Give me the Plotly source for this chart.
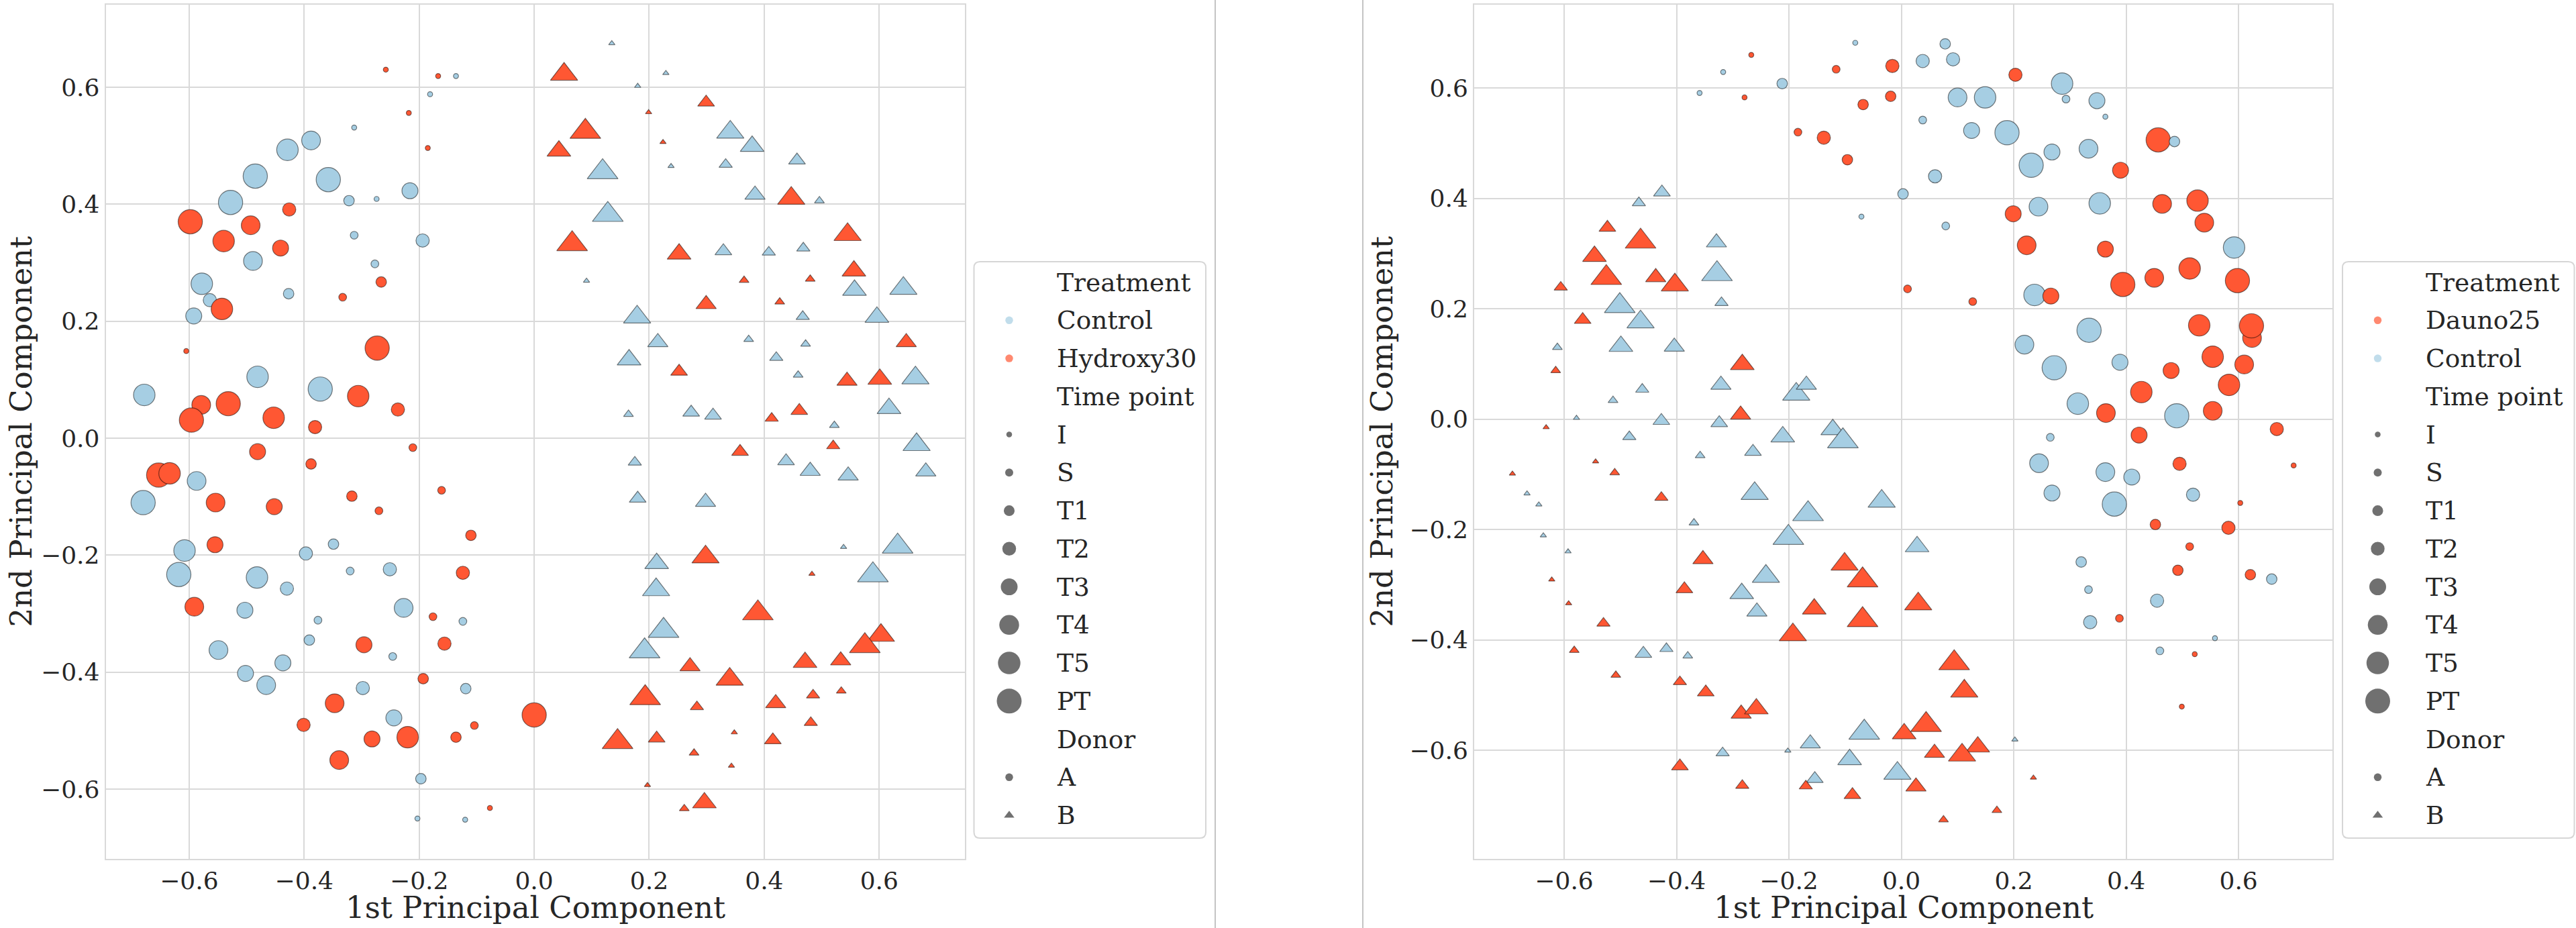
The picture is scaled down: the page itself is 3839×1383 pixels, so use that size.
import plotly.graph_objects as go

W, H = 3839, 1383

# ---------------- data ----------------
time_levels = ["I", "S", "T1", "T2", "T3", "T4", "T5", "PT"]

# Left panel (Control vs Hydroxy30) - donor A (circles)
left_A_pc1 = [
    -0.258, -0.167, -0.136, -0.181, -0.218, -0.313, -0.185, -0.388,
    -0.429, -0.485, -0.358, -0.216, -0.322, -0.274, -0.528, -0.426,
    -0.598, -0.493, -0.540, -0.441, -0.313, -0.194, -0.489, -0.277,
    -0.266, -0.333, -0.427, -0.578, -0.564, -0.543, -0.592, -0.605,
    -0.273, -0.481, -0.678, -0.372, -0.306, -0.237, -0.579, -0.532,
    -0.596, -0.453, -0.381, -0.481, -0.388, -0.211, -0.653, -0.634,
    -0.587, -0.680, -0.554, -0.452, -0.317, -0.270, -0.161, -0.110,
    -0.555, -0.608, -0.397, -0.349, -0.618, -0.482, -0.430, -0.320,
    -0.251, -0.124, -0.591, -0.503, -0.227, -0.176, -0.124, -0.376,
    -0.391, -0.296, -0.156, -0.246, -0.549, -0.437, -0.502, -0.466,
    -0.193, -0.298, -0.119, -0.347, 0.000, -0.244, -0.401, -0.104,
    -0.282, -0.220, -0.136, -0.339, -0.197, -0.077, -0.203, -0.120,
]
left_A_pc2 = [
    0.630, 0.619, 0.619, 0.588, 0.556, 0.531, 0.496, 0.509,
    0.493, 0.448, 0.442, 0.423, 0.406, 0.409, 0.403, 0.391,
    0.370, 0.364, 0.337, 0.325, 0.347, 0.338, 0.303, 0.298,
    0.267, 0.241, 0.247, 0.264, 0.236, 0.221, 0.209, 0.149,
    0.154, 0.105, 0.074, 0.084, 0.072, 0.049, 0.057, 0.059,
    0.031, 0.035, 0.019, -0.023, -0.044, -0.016, -0.063, -0.060,
    -0.073, -0.110, -0.110, -0.117, -0.099, -0.124, -0.089, -0.166,
    -0.182, -0.192, -0.197, -0.181, -0.233, -0.238, -0.257, -0.227,
    -0.224, -0.230, -0.288, -0.294, -0.290, -0.305, -0.313, -0.311,
    -0.345, -0.353, -0.351, -0.373, -0.362, -0.384, -0.402, -0.422,
    -0.411, -0.427, -0.428, -0.453, -0.473, -0.478, -0.490, -0.491,
    -0.514, -0.511, -0.511, -0.550, -0.582, -0.632, -0.650, -0.652,
]
left_A_treatment = """
H H C C H C H C
C C C C C C C H
H H H H C C C C
H H C C C H C H
H C C C H H H H
H H H H H H H H
C C H H H H H H
H C C C C C C C
C H H C C H C C
C H H C C C C C
H C C H H C H H
H H H H C H C C""".split()
left_A_time = """
I I I I I I I T4
T5 PT PT T3 T1 I PT T2
PT T4 T5 T3 S T2 T4 S
T1 S T1 T5 T2 T5 T3 I
PT T5 T5 PT T5 T2 T4 PT
PT T5 T2 T3 T1 S PT T5
T4 PT T4 T3 T1 S S T1
T3 T5 T2 T1 PT T5 T2 S
T2 T2 T4 T3 T4 S S S
T1 T3 T2 S T4 T3 T3 T4
T1 T2 T1 T4 PT T3 T2 S
T3 T5 T1 T4 T1 I I I""".split()

# Left panel - donor B (triangles)
left_B_pc1 = [
    0.135, 0.052, 0.229, 0.180, 0.299, 0.199, 0.089, 0.043,
    0.224, 0.341, 0.379, 0.238, 0.333, 0.457, 0.119, 0.384,
    0.447, 0.496, 0.128, 0.545, 0.066, 0.252, 0.329, 0.408,
    0.468, 0.556, 0.091, 0.365, 0.480, 0.557, 0.642, 0.299,
    0.427, 0.179, 0.467, 0.596, 0.215, 0.373, 0.472, 0.647,
    0.165, 0.421, 0.252, 0.459, 0.544, 0.601, 0.663, 0.164,
    0.273, 0.311, 0.413, 0.461, 0.617, 0.522, 0.665, 0.520,
    0.175, 0.358, 0.438, 0.480, 0.546, 0.681, 0.180, 0.298,
    0.632, 0.538, 0.213, 0.298, 0.483, 0.589, 0.212, 0.389,
    0.225, 0.603, 0.575, 0.192, 0.471, 0.533, 0.271, 0.340,
    0.193, 0.485, 0.534, 0.420, 0.283, 0.481, 0.348, 0.145,
    0.213, 0.415, 0.278, 0.343, 0.197, 0.261, 0.296,
]
left_B_pc2 = [
    0.675, 0.622, 0.624, 0.602, 0.574, 0.557, 0.524, 0.491,
    0.506, 0.523, 0.499, 0.465, 0.468, 0.475, 0.455, 0.416,
    0.410, 0.406, 0.382, 0.348, 0.332, 0.315, 0.320, 0.318,
    0.325, 0.286, 0.269, 0.270, 0.272, 0.253, 0.256, 0.229,
    0.233, 0.207, 0.208, 0.207, 0.164, 0.169, 0.161, 0.164,
    0.134, 0.138, 0.114, 0.108, 0.098, 0.101, 0.103, 0.041,
    0.044, 0.039, 0.034, 0.047, 0.051, 0.022, -0.011, -0.013,
    -0.041, -0.023, -0.039, -0.056, -0.064, -0.057, -0.103, -0.109,
    -0.185, -0.186, -0.214, -0.203, -0.232, -0.234, -0.259, -0.299,
    -0.329, -0.337, -0.355, -0.364, -0.383, -0.380, -0.390, -0.412,
    -0.444, -0.439, -0.432, -0.453, -0.459, -0.486, -0.503, -0.519,
    -0.513, -0.516, -0.538, -0.560, -0.593, -0.633, -0.623,
]
left_B_treatment = """
C H C C H H H H
H C C C C C C C
H C C H H H C C
C H C H H C C H
H C C C C C C H
C C H C H H C C
C C H H C C C H
C H C C C C C C
C C C H H C C H
C H H C H H H H
H H H H H H H H
H H H H H H H""".split()
left_B_time = """
I T5 I I T2 I PT T4
I T5 T4 I T1 T2 PT T3
T5 S PT T5 PT T4 T2 T1
T1 T4 I S S T4 T5 T3
S T5 T1 T4 T3 S S T3
T4 T1 T2 S T3 T4 T5 S
T2 T2 T1 T2 T4 S T5 T1
T1 T2 T2 T3 T3 T3 T2 T3
PT I T4 T5 I PT T5 PT
PT T5 PT PT T4 T3 T3 T5
PT T1 S T3 T1 T1 I PT
T2 T2 S I I S T4""".split()

# Right panel (Dauno25 vs Control) - donor A (circles)
right_A_pc1 = [
    -0.082, -0.267, -0.317, -0.116, -0.212, -0.359, -0.279, -0.068,
    -0.184, -0.138, -0.096, -0.071, 0.078, -0.016, 0.038, 0.092,
    0.203, 0.286, -0.019, 0.100, 0.149, 0.293, 0.348, 0.363,
    0.038, 0.125, 0.188, 0.457, 0.486, 0.268, 0.333, 0.231,
    0.390, 0.060, 0.003, 0.244, 0.353, 0.464, 0.527, 0.539,
    0.199, 0.079, 0.223, 0.363, 0.592, 0.394, 0.450, 0.513,
    0.598, 0.011, 0.127, 0.237, 0.266, 0.530, 0.624, 0.623,
    0.334, 0.219, 0.554, 0.272, 0.389, 0.480, 0.610, 0.583,
    0.427, 0.314, 0.364, 0.490, 0.554, 0.668, 0.265, 0.423,
    0.245, 0.363, 0.410, 0.495, 0.698, 0.268, 0.379, 0.519,
    0.603, 0.452, 0.582, 0.513, 0.320, 0.492, 0.621, 0.659,
    0.333, 0.455, 0.336, 0.388, 0.558, 0.460, 0.522, 0.499,
]
right_A_pc2 = [
    0.682, 0.660, 0.629, 0.634, 0.608, 0.591, 0.583, 0.570,
    0.520, 0.510, 0.470, 0.367, 0.680, 0.640, 0.649, 0.652,
    0.624, 0.608, 0.585, 0.583, 0.583, 0.580, 0.577, 0.548,
    0.542, 0.523, 0.519, 0.506, 0.503, 0.484, 0.490, 0.460,
    0.451, 0.440, 0.408, 0.385, 0.391, 0.390, 0.396, 0.356,
    0.372, 0.350, 0.315, 0.308, 0.311, 0.244, 0.256, 0.273,
    0.251, 0.236, 0.213, 0.225, 0.223, 0.170, 0.147, 0.169,
    0.161, 0.135, 0.113, 0.093, 0.103, 0.088, 0.099, 0.062,
    0.049, 0.028, 0.011, 0.006, 0.015, -0.018, -0.033, -0.029,
    -0.080, -0.096, -0.105, -0.081, -0.084, -0.134, -0.154, -0.137,
    -0.152, -0.191, -0.197, -0.231, -0.259, -0.274, -0.282, -0.290,
    -0.309, -0.329, -0.368, -0.361, -0.397, -0.420, -0.426, -0.521,
]
right_A_treatment = """
C D C D C C D D
D D D C C D C C
D C D C C C C C
C C C D C C C C
D C C C C D D D
D C D D C D D D
D D D C D D D D
C C D C C D D D
D C D C D D C D
C C C D D C C C
D D D D C D D C
C C C D C C D D""".split()
right_A_time = """
I I I S T1 I I T1
S T2 T1 I T1 T2 T2 T2
T2 T5 T1 T4 T5 S T3 I
S T3 PT PT T1 T3 T4 PT
T3 T2 T1 T4 T5 T4 T5 T4
T3 S T4 T3 T5 PT T4 T5
PT S S T5 T3 T5 T4 PT
PT T4 T5 PT T3 T3 T4 T5
T5 T5 T4 PT T4 T2 S T3
T4 T4 T3 T2 I T3 PT T2
I T1 T2 S T1 T1 T1 T1
S T2 T2 S I S I I""".split()

# Right panel - donor B (triangles)
right_B_pc1 = [
    -0.426, -0.467, -0.523, -0.464, -0.329, -0.546, -0.525, -0.437,
    -0.403, -0.328, -0.606, -0.320, -0.501, -0.464, -0.567, -0.612,
    -0.499, -0.404, -0.283, -0.615, -0.461, -0.321, -0.187, -0.169,
    -0.513, -0.286, -0.427, -0.324, -0.578, -0.632, -0.484, -0.211,
    -0.122, -0.104, -0.035, 0.028, -0.069, 0.030, -0.069, 0.094,
    0.112, -0.066, 0.005, 0.044, 0.136, 0.059, 0.108, -0.007,
    0.026, 0.202, 0.235, 0.170, 0.075, -0.358, -0.264, -0.544,
    -0.510, -0.692, -0.666, -0.645, -0.427, -0.261, -0.166, -0.369,
    -0.637, -0.201, -0.593, -0.353, -0.101, -0.241, -0.622, -0.284,
    -0.386, -0.592, -0.257, -0.155, -0.530, -0.193, -0.582, -0.459,
    -0.418, -0.380, -0.508, -0.394, -0.348, -0.285, -0.258, -0.318,
    -0.202, -0.162, -0.092, -0.394, -0.283, -0.154, -0.170, -0.087,
]
right_B_pc2 = [
    0.411, 0.392, 0.347, 0.322, 0.320, 0.295, 0.256, 0.257,
    0.243, 0.263, 0.239, 0.211, 0.205, 0.176, 0.180, 0.130,
    0.132, 0.131, 0.099, 0.088, 0.054, 0.062, 0.045, 0.062,
    0.034, 0.008, -0.003, -0.007, 0.002, -0.015, -0.032, -0.032,
    -0.019, -0.040, -0.149, -0.231, -0.292, -0.335, -0.364, -0.442,
    -0.493, -0.568, -0.570, -0.554, -0.594, -0.605, -0.609, -0.642,
    -0.666, -0.581, -0.650, -0.709, -0.726, -0.066, -0.059, -0.077,
    -0.097, -0.099, -0.135, -0.155, -0.142, -0.135, -0.172, -0.188,
    -0.211, -0.215, -0.240, -0.254, -0.263, -0.285, -0.291, -0.316,
    -0.308, -0.334, -0.349, -0.344, -0.370, -0.391, -0.419, -0.425,
    -0.416, -0.429, -0.464, -0.476, -0.495, -0.534, -0.525, -0.605,
    -0.601, -0.588, -0.617, -0.629, -0.664, -0.652, -0.665, -0.681,
]
right_B_treatment = """
C C D D C D D D
D C D C C C D C
C C D D C C C C
C D C C C D C C
C C C C D D D D
D C D D D D D C
D C D D D C C D
D D C C D C C C
C C C D D C D C
D D C D D D D C
C C D D D D D C
C C C D D C D D""".split()
right_B_time = """
T2 T1 T2 PT T3 T4 PT T3
T5 PT T1 T1 PT T5 T2 S
T4 T3 T4 S T1 T3 T5 T3
S T3 T2 T2 I I T1 T4
T4 PT T5 T4 PT T5 PT PT
T5 PT T4 PT T4 T3 T5 T5
T3 I I S S S T2 I
S I I I T1 T5 PT S
I PT I T3 T5 T5 I T4
T2 I T3 T4 T1 T5 S T2
T1 S S T1 T2 T3 T4 T1
I T3 T4 T2 T1 T2 T1 T2""".split()

# ---------------- styling ----------------
FONT = "DejaVu Serif"
TXT = "#262626"
BLUE = "#a6cee3"
RED = "#ff5733"
DARK = "#333333"
GRID = "#d9d9d9"
time_diam = [7.5, 11.6, 15.7, 19.8, 23.9, 28.0, 32.1, 36.2]
legend_diam = [8.5, 12.0, 16.0, 20.5, 25.0, 29.5, 33.5, 37.0]
SIZE = dict(zip(time_levels, time_diam))
TRI = 1.1  # plotly triangle -> comparable area to matplotlib '^'

left_colors = {"C": BLUE, "H": RED}
right_colors = {"C": BLUE, "D": RED}


def panel_trace(a1, a2, at, atime, b1, b2, bt, btime, cmap, xa, ya):
    xs = a1 + b1
    ys = a2 + b2
    treats = at + bt
    times = atime + btime
    donors = ["A"] * len(a1) + ["B"] * len(b1)
    sizes = [SIZE[t] * (TRI if d == "B" else 1.0) for t, d in zip(times, donors)]
    symbols = ["circle" if d == "A" else "triangle-up" for d in donors]
    colors = [cmap[t] for t in treats]
    return go.Scatter(
        x=xs, y=ys, mode="markers", xaxis=xa, yaxis=ya,
        marker=dict(size=sizes, symbol=symbols, color=colors, opacity=1,
                    line=dict(color="rgba(0,0,0,0.5)", width=1.2)),
        showlegend=False, hoverinfo="skip",
    )


fig = go.Figure()
fig.add_trace(panel_trace(left_A_pc1, left_A_pc2, left_A_treatment, left_A_time,
                          left_B_pc1, left_B_pc2, left_B_treatment, left_B_time,
                          left_colors, "x", "y"))
fig.add_trace(panel_trace(right_A_pc1, right_A_pc2, right_A_treatment, right_A_time,
                          right_B_pc1, right_B_pc2, right_B_treatment, right_B_time,
                          right_colors, "x2", "y2"))

tick_vals = [-0.6, -0.4, -0.2, 0.0, 0.2, 0.4, 0.6]
tick_text = ["\u22120.6", "\u22120.4", "\u22120.2", "0.0", "0.2", "0.4", "0.6"]

# pixel geometry of the two plot areas
L_X0, L_X1 = 157.6, 1438.0
R_X0, R_X1 = 2197.0, 3476.0
P_Y0, P_Y1 = 7.0, 1280.0


def ax(domain, rng):
    return dict(domain=domain, range=rng, showgrid=True, gridcolor=GRID, gridwidth=2,
                zeroline=False, showline=True, linecolor=GRID, linewidth=2, mirror=True,
                ticks="", tickvals=tick_vals, ticktext=tick_text,
                tickfont=dict(family=FONT, size=36, color=TXT), fixedrange=True)


ydom = [1 - P_Y1 / H, 1 - P_Y0 / H]
layout = dict(
    width=W, height=H, margin=dict(l=0, r=0, t=0, b=0),
    paper_bgcolor="white", plot_bgcolor="rgba(0,0,0,0)", showlegend=False,
    xaxis=ax([L_X0 / W, L_X1 / W], [-0.745, 0.749]),
    yaxis=ax(ydom, [-0.719, 0.741]),
    xaxis2=ax([R_X0 / W, R_X1 / W], [-0.760, 0.767]),
    yaxis2=ax(ydom, [-0.797, 0.751]),
    # pixel-space overlay used for legends / titles
    xaxis3=dict(domain=[0, 1], range=[0, W], visible=False, fixedrange=True),
    yaxis3=dict(domain=[0, 1], range=[H, 0], visible=False, fixedrange=True),
)
layout["xaxis2"]["anchor"] = "y2"
layout["yaxis2"]["anchor"] = "x2"
layout["xaxis3"]["anchor"] = "y3"
layout["yaxis3"]["anchor"] = "x3"
fig.update_layout(**layout)

annotations = []
shapes = []

# axis titles
for cx, ylab_x in [((L_X0 + L_X1) / 2, 31), ((R_X0 + R_X1) / 2, 2059)]:
    annotations.append(dict(text="1st Principal Component", x=cx, y=1352, xref="x3", yref="y3",
                            xanchor="center", yanchor="middle", showarrow=False,
                            font=dict(family=FONT, size=45, color=TXT)))
    annotations.append(dict(text="2nd Principal Component", x=ylab_x, y=(P_Y0 + P_Y1) / 2,
                            xref="x3", yref="y3", textangle=-90, xanchor="center",
                            yanchor="middle", showarrow=False,
                            font=dict(family=FONT, size=45, color=TXT)))

# divider lines between the two panels
for xv in [1811, 2031]:
    shapes.append(dict(type="line", xref="x3", yref="y3", x0=xv, x1=xv, y0=0, y1=H,
                       line=dict(color="#c4c4c4", width=2)))

# legends
left_legend = [("Treatment", None), ("Control", ("circle", BLUE, 11.5)),
               ("Hydroxy30", ("circle", RED, 11.5)), ("Time point", None)]
right_legend = [("Treatment", None), ("Dauno25", ("circle", RED, 11.5)),
                ("Control", ("circle", BLUE, 11.5)), ("Time point", None)]
tail = [(t, ("circle", DARK, d)) for t, d in zip(time_levels, legend_diam)]
tail += [("Donor", None), ("A", ("circle", DARK, 11.5)), ("B", ("triangle-up", DARK, 13.5))]

ROW0, ROWH = 420.6, 56.75
LEG_T, LEG_B = 390.0, 1249.0
for box_l, box_r, entries in [(1451.5, 1797.0, left_legend + tail),
                              (3491.0, 3836.5, right_legend + tail)]:
    r = 9
    path = (f"M{box_l + r},{LEG_T} L{box_r - r},{LEG_T} Q{box_r},{LEG_T} {box_r},{LEG_T + r} "
            f"L{box_r},{LEG_B - r} Q{box_r},{LEG_B} {box_r - r},{LEG_B} "
            f"L{box_l + r},{LEG_B} Q{box_l},{LEG_B} {box_l},{LEG_B - r} "
            f"L{box_l},{LEG_T + r} Q{box_l},{LEG_T} {box_l + r},{LEG_T} Z")
    shapes.append(dict(type="path", path=path, xref="x3", yref="y3",
                       fillcolor="white", line=dict(color="#d6d6d6", width=2), layer="below"))
    mx, my, msym, mcol, msz = [], [], [], [], []
    for i, (label, mk) in enumerate(entries):
        yrow = ROW0 + i * ROWH
        annotations.append(dict(text=label, x=box_l + 121.5, y=yrow, xref="x3", yref="y3",
                                xanchor="left", yanchor="middle", showarrow=False,
                                font=dict(family=FONT, size=37.5, color=TXT)))
        if mk is not None:
            mx.append(box_l + 52.5)
            my.append(yrow)
            msym.append(mk[0])
            mcol.append(mk[1])
            msz.append(mk[2])
    fig.add_trace(go.Scatter(x=mx, y=my, mode="markers", xaxis="x3", yaxis="y3",
                             marker=dict(symbol=msym, color=mcol, size=msz, line=dict(width=0)),
                             showlegend=False, hoverinfo="skip"))

fig.update_layout(annotations=annotations, shapes=shapes)

fig.write_html("out.html", include_plotlyjs=True, config={"displayModeBar": False},
               post_script="document.body.style.margin='0';document.body.style.overflow='hidden';")
